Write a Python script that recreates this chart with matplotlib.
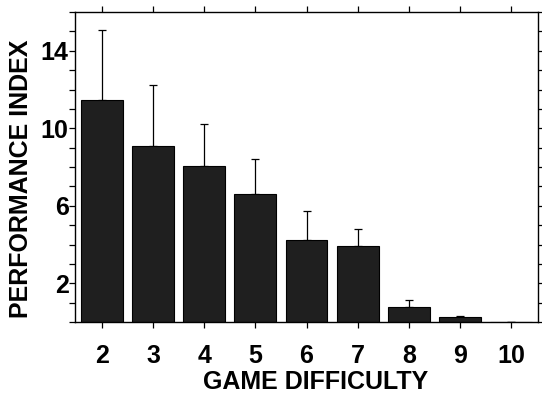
import matplotlib
matplotlib.use("Agg")
import matplotlib.pyplot as plt

# data
difficulty = [2, 3, 4, 5, 6, 7, 8, 9, 10]
perf_index = [11.47, 9.09, 8.06, 6.63, 4.24, 3.91, 0.79, 0.26, 0.0]
perf_err = [3.60, 3.15, 2.18, 1.79, 1.49, 0.88, 0.33, 0.07, 0.0]
y_ticks = list(range(0, 17))
y_labelled = [2, 6, 10, 14]

plt.rcParams['font.family'] = ['Liberation Sans', 'DejaVu Sans']
plt.rcParams['font.weight'] = 'bold'

fig = plt.figure(figsize=(5.42, 3.94), dpi=100)
ax = fig.add_axes([75 / 542, 1 - 322 / 394, 463 / 542, 310 / 394])

ax.bar(difficulty, perf_index, width=0.82, color='#1f1f1f', edgecolor='black',
       linewidth=0.8, zorder=2)
ax.errorbar(difficulty, perf_index, yerr=[[0] * len(perf_err), perf_err],
            fmt='none', ecolor='black', elinewidth=0.9, capsize=3.2,
            capthick=0.9, zorder=1)

ax.set_xlim(1.47, 10.53)
ax.set_ylim(0, 16)
ax.set_xticks(difficulty)
ax.set_xticklabels([str(d) for d in difficulty], fontsize=18, fontweight='bold')
ax.set_yticks(y_ticks)
ax.set_yticklabels([str(v) if v in y_labelled else '' for v in y_ticks],
                   fontsize=18, fontweight='bold')

ax.tick_params(axis='both', direction='out', length=4, width=0.9,
               top=True, right=True)
ax.tick_params(axis='x', pad=12)
ax.tick_params(axis='y', pad=0.5)
for s in ax.spines.values():
    s.set_linewidth(1.0)

ax.set_xlabel('GAME DIFFICULTY', fontsize=18, fontweight='bold')
ax.set_ylabel('PERFORMANCE INDEX', fontsize=18, fontweight='bold')
ax.xaxis.label.set_verticalalignment('center')
ax.yaxis.label.set_verticalalignment('center')
ax.xaxis.set_label_coords(0.52, -0.192)
ax.yaxis.set_label_coords(-0.117, 0.461)

fig.savefig('out.png', dpi=100)
